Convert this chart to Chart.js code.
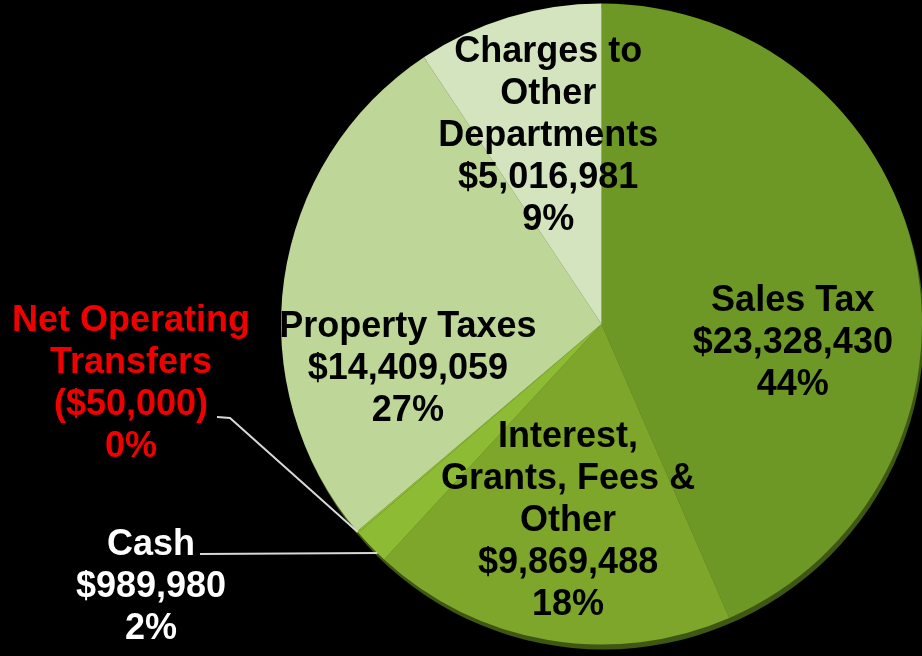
<!DOCTYPE html>
<html>
<head>
<meta charset="utf-8">
<script src="https://cdn.jsdelivr.net/npm/chart.js@4.4.1/dist/chart.umd.min.js"></script>
<style>
    html, body { margin: 0; padding: 0; background: #000; }
    #wrap { width: 922px; height: 656px; }
</style>
</head>
<body>
<div id="wrap"><canvas id="revenueChart" width="922" height="656"></canvas></div>
<script>
// Revenue sources, clockwise from 12 o'clock
const categories = [
    ['Sales Tax'],
    ['Interest,', 'Grants, Fees &', 'Other'],
    ['Cash'],
    ['Net Operating', 'Transfers'],
    ['Property Taxes'],
    ['Charges to', 'Other', 'Departments']
];
const amounts = [23328430, 9869488, 989980, -50000, 14409059, 5016981];
const sliceColors = ['#6e9826', '#7da62b', '#8dbb33', '#8dbb33', '#bed697', '#d4e4be'];

// Helper Functions
function formatMoney(v) {
    const s = '$' + Math.abs(v).toLocaleString('en-US');
    return v < 0 ? '(' + s + ')' : s;
}

function formatPercent(v, total) {
    return Math.round(Math.abs(v) / total * 100) + '%';
}

// Labels inside slices + leader lines for the small ones
const sliceLabels = {
    id: 'sliceLabels',
    beforeDatasetsDraw(chart, args, opts) {
        // dark rim under the pie, gives the slight 3D edge
        const arc = chart.getDatasetMeta(0).data[0];
        const ctx = chart.ctx;
        ctx.save();
        ctx.fillStyle = opts.rimColor;
        ctx.beginPath();
        ctx.arc(arc.x + 2, arc.y + 5, arc.outerRadius, 0, Math.PI * 2);
        ctx.fill();
        ctx.restore();
    },
    afterDatasetsDraw(chart, args, opts) {
        const ctx = chart.ctx;
        const meta = chart.getDatasetMeta(0);
        const total = amounts.reduce((a, b) => a + b, 0);

        meta.data.forEach((arc, i) => {
            const p = opts.place[i];
            const { x, y, startAngle, endAngle, outerRadius } =
                arc.getProps(['x', 'y', 'startAngle', 'endAngle', 'outerRadius'], true);
            const lines = categories[i].concat([formatMoney(amounts[i]), formatPercent(amounts[i], total)]);
            let cx, cy;

            ctx.save();
            if (p.inside) {
                const a = (startAngle + endAngle) / 2 + p.turn * Math.PI / 180;
                cx = x + Math.cos(a) * outerRadius * p.rf;
                cy = y + Math.sin(a) * outerRadius * p.rf;
            } else {
                cx = p.x;
                cy = p.y;
                const a = startAngle + (endAngle - startAngle) * p.at;
                ctx.strokeStyle = opts.leaderColor;
                ctx.lineWidth = 2;
                ctx.beginPath();
                ctx.moveTo(p.from[0], p.from[1]);
                if (p.elbow) ctx.lineTo(p.elbow[0], p.elbow[1]);
                ctx.lineTo(x + Math.cos(a) * outerRadius, y + Math.sin(a) * outerRadius);
                ctx.stroke();
            }

            ctx.fillStyle = p.color;
            ctx.font = 'bold ' + opts.fontSize + 'px "Liberation Sans", Arial, sans-serif';
            ctx.textAlign = 'center';
            ctx.textBaseline = 'middle';
            const top = cy - (lines.length - 1) * opts.lineHeight / 2;
            lines.forEach((txt, k) => ctx.fillText(txt, cx, top + k * opts.lineHeight));
            ctx.restore();
        });
    }
};

const ctx = document.getElementById('revenueChart').getContext('2d');

new Chart(ctx, {
    type: 'pie',
    data: {
        labels: categories.map(c => c.join(' ')),
        datasets: [{
            data: amounts,
            backgroundColor: sliceColors,
            borderWidth: 0
        }]
    },
    options: {
        responsive: false,
        animation: false,
        layout: {
            padding: { left: 281, right: 0, top: 3, bottom: 11 }
        },
        plugins: {
            legend: { display: false },
            tooltip: { enabled: false },
            sliceLabels: {
                fontSize: 36,
                lineHeight: 42,
                rimColor: '#3e5712',
                leaderColor: '#d8d8d8',
                place: [
                    { inside: true, rf: 0.6, turn: 17.5, color: '#000' },
                    { inside: true, rf: 0.625, turn: 0, color: '#000' },
                    { inside: false, x: 151, y: 587, at: 0.25, from: [200, 554], color: '#fff' },
                    { inside: false, x: 131, y: 384, at: 0.5, from: [217, 417], elbow: [230, 418], color: '#f00000' },
                    { inside: true, rf: 0.62, turn: -21, color: '#000' },
                    { inside: true, rf: 0.61, turn: 1, color: '#000' }
                ]
            }
        }
    },
    plugins: [sliceLabels]
});
</script>
</body>
</html>
